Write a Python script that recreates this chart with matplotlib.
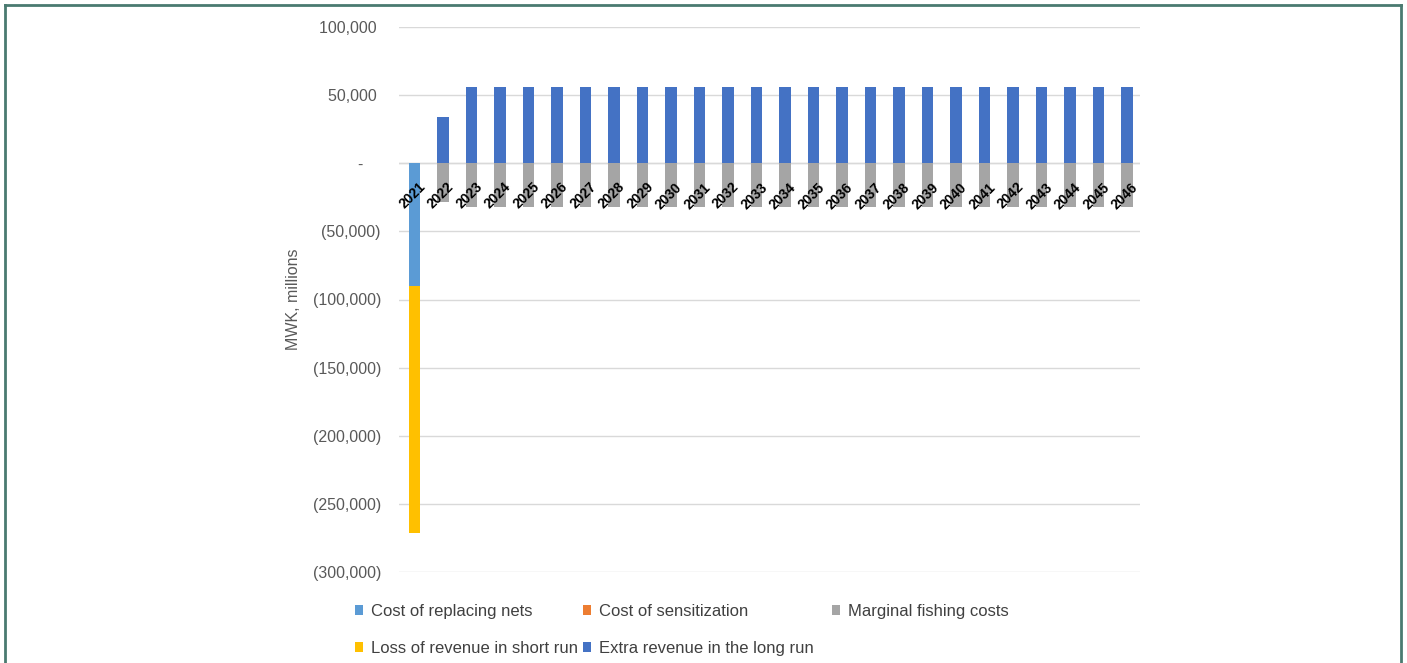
import matplotlib.pyplot as plt
from matplotlib.lines import Line2D
from matplotlib.ticker import FixedLocator
import numpy as np

plt.rcParams['font.family'] = ['Liberation Sans', 'DejaVu Sans']

years = [str(y) for y in range(2021, 2047)]

replacing_nets = [-90000, 0, 0, 0, 0, 0, 0, 0, 0, 0, 0, 0, 0,
                  0, 0, 0, 0, 0, 0, 0, 0, 0, 0, 0, 0, 0]
sensitization = [-400, 0, 0, 0, 0, 0, 0, 0, 0, 0, 0, 0, 0,
                 0, 0, 0, 0, 0, 0, 0, 0, 0, 0, 0, 0, 0]
marginal_costs = [0, -28500, -32000, -32000, -32000, -32000, -32000, -32000, -32000,
                  -32000, -32000, -32000, -32000, -32000, -32000, -32000, -32000,
                  -32000, -32000, -32000, -32000, -32000, -32000, -32000, -32000, -32000]
loss_short_run = [-181000, 0, 0, 0, 0, 0, 0, 0, 0, 0, 0, 0, 0,
                  0, 0, 0, 0, 0, 0, 0, 0, 0, 0, 0, 0, 0]
extra_long_run = [0, 34000, 55700, 55700, 55700, 55700, 55700, 55700, 55700,
                  55700, 55700, 55700, 55700, 55700, 55700, 55700, 55700,
                  55700, 55700, 55700, 55700, 55700, 55700, 55700, 55700, 55700]

series = [
    ("Cost of replacing nets", replacing_nets, "#5b9bd5"),
    ("Cost of sensitization", sensitization, "#ed7d31"),
    ("Marginal fishing costs", marginal_costs, "#a5a5a5"),
    ("Loss of revenue in short run", loss_short_run, "#ffc000"),
    ("Extra revenue in the long run", extra_long_run, "#4472c4"),
]

W, H = 1407, 663
fig = plt.figure(figsize=(W / 100, H / 100), dpi=100)
ax = fig.add_axes([399 / W, 1 - 572 / H, (1140 - 399) / W, (572 - 27) / H])

x = np.arange(len(years))
pos_base = np.zeros(len(years))
neg_base = np.zeros(len(years))
handles = {}
for name, vals, color in series:
    v = np.array(vals, dtype=float)
    bottom = np.where(v >= 0, pos_base, neg_base)
    b = ax.bar(x + 0.05, v, width=0.4, bottom=bottom, color=color, zorder=3, label=name)
    handles[name] = b
    pos_base += np.where(v > 0, v, 0)
    neg_base += np.where(v < 0, v, 0)

ax.set_xlim(-0.5, len(years) - 0.5)
ax.set_ylim(-300000, 100000)
ticks = np.arange(-300000, 100001, 50000)
ax.yaxis.set_major_locator(FixedLocator(ticks))


def acct(v):
    if v == 0:
        return "-    "
    if v < 0:
        return "({:,.0f})".format(-v)
    return "{:,.0f} ".format(v)


ax.set_yticklabels([acct(t) for t in ticks], fontsize=11.5, color="#595959")
ax.tick_params(axis="y", length=0, pad=13)
ax.set_xticks([])
ax.grid(axis="y", color="#d9d9d9", linewidth=1, zorder=0)
for s in ax.spines.values():
    s.set_visible(False)
ax.axhline(0, color="#d9d9d9", linewidth=1, zorder=1)

for i, yr in enumerate(years):
    ax.annotate(yr, xy=(i, 0), xytext=(3.5, -12), textcoords="offset points",
                rotation=45, rotation_mode="anchor", ha="right", va="top",
                fontsize=10, fontweight="bold", color="black", zorder=5)

ax.set_ylabel("MWK, millions", fontsize=11.5, color="#595959")
ax.yaxis.set_label_coords(301 / W, 1 - 299 / H, transform=fig.transFigure)

# legend laid out as three columns, like the spreadsheet
columns = [
    (355, ["Cost of replacing nets", "Loss of revenue in short run"]),
    (583, ["Cost of sensitization", "Extra revenue in the long run"]),
    (832, ["Marginal fishing costs"]),
]
for xpix, names in columns:
    leg = fig.legend([handles[n] for n in names], names, loc="upper left",
                     bbox_to_anchor=(xpix / W, 1 - 604 / H), bbox_transform=fig.transFigure,
                     frameon=False, fontsize=12, handlelength=0.5, handleheight=0.5,
                     handletextpad=0.45, labelspacing=1.3,
                     borderpad=0, borderaxespad=0)
    for t in leg.get_texts():
        t.set_color("#404040")

# frame around the figure
edge = "#4a7a70"
fig.add_artist(Line2D([5 / W, 5 / W], [0, 1 - 5 / H], color=edge, lw=2, transform=fig.transFigure))
fig.add_artist(Line2D([1401 / W, 1401 / W], [0, 1 - 5 / H], color=edge, lw=2, transform=fig.transFigure))
fig.add_artist(Line2D([5 / W, 1401 / W], [1 - 5 / H, 1 - 5 / H], color=edge, lw=2, transform=fig.transFigure))

fig.savefig("out.png", dpi=100)
